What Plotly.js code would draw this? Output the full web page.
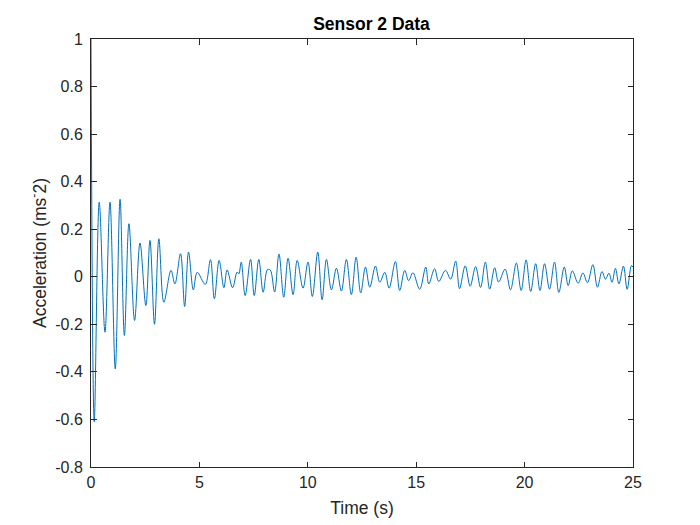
<!DOCTYPE html>
<html>
<head>
<meta charset="utf-8">
<script src="https://cdn.plot.ly/plotly-3.0.1.min.js"></script>
<style>html,body{margin:0;padding:0;background:#fff;}#chart{width:700px;height:525px;}</style>
</head>
<body>
<div id="chart"></div>
<script>
// Time (s) of read-off turning points
var timeS = [0, 0.15, 0.38, 0.645, 0.876, 1.12, 1.34, 1.54, 1.75, 2.01, 2.26, 2.53, 2.72, 2.93, 3.13, 3.36, 3.69, 3.87, 4.13, 4.32,
  4.50, 4.72, 4.90, 5.27, 5.51, 5.69, 5.91, 6.13, 6.28, 6.53, 6.74, 6.82, 6.93, 7.11, 7.36, 7.53, 7.74, 7.94, 8.14, 8.27, 8.47, 8.67,
  8.89, 9.09, 9.32, 9.51, 9.78, 10.01, 10.21, 10.46, 10.66, 10.86, 11.09, 11.32, 11.55, 11.78, 12.01, 12.23, 12.44,
  12.66, 12.86, 13.12, 13.32, 13.55, 13.75, 14.04, 14.24, 14.47, 14.65, 14.85, 15.16, 15.44, 15.58, 15.85, 16.04, 16.35, 16.59,
  16.82, 17.00, 17.26, 17.49, 17.74, 17.97, 18.19, 18.39, 18.62, 18.80, 19.10, 19.35, 19.62, 19.84, 20.07, 20.28, 20.51, 20.71,
  20.92, 21.15, 21.38, 21.58, 21.83, 22.01, 22.20, 22.47, 22.69, 22.90, 23.15, 23.36, 23.57, 23.73, 23.89, 24.03, 24.19, 24.35,
  24.56, 24.73, 24.93, 25.0];
// Acceleration (ms^-2) at those times
var accel = [1.0, -0.61, 0.314, -0.233, 0.314, -0.388, 0.326, -0.247, 0.223, -0.184, 0.142, -0.121, 0.153, -0.200, 0.160, -0.107, 0.027, -0.030, 0.097, -0.125,
  0.104, -0.055, 0.019, -0.032, 0.072, -0.093, 0.069, -0.046, 0.029, -0.046, 0.020, 0.012, 0.062, -0.079, 0.073, -0.079, 0.073, -0.065, 0.030, 0.028, -0.064, 0.096,
  -0.086, 0.078, -0.075, 0.069, -0.048, 0.062, -0.083, 0.104, -0.097, 0.073, -0.055, 0.036, -0.060, 0.073, -0.075, 0.083, -0.068,
  0.041, -0.044, 0.045, -0.023, 0.019, -0.048, 0.064, -0.058, 0.027, -0.016, 0.017, -0.053, 0.041, -0.030, 0.034, -0.020, 0.027, -0.010,
  0.066, -0.050, 0.046, -0.040, 0.043, -0.045, 0.062, -0.052, 0.038, -0.022, 0.032, -0.055, 0.058, -0.058, 0.071, -0.062, 0.055, -0.058,
  0.055, -0.052, 0.062, -0.066, 0.041, -0.037, 0.025, -0.027, 0.016, -0.025, 0.051, -0.044, 0.022, -0.010, 0.015, -0.023, 0.035, -0.030,
  0.045, -0.053, 0.047, 0.040];

var xTickVals = [0, 5, 10, 15, 20, 25];
var xTickText = ['0', '5', '10', '15', '20', '25'];
var yTickVals = [-0.8, -0.6, -0.4, -0.2, 0, 0.2, 0.4, 0.6, 0.8, 1];
var yTickText = ['-0.8', '-0.6', '-0.4', '-0.2', '0', '0.2', '0.4', '0.6', '0.8', '1'];

var axisColor = '#262626';
var fontFam = '"Liberation Sans", Arial, Helvetica, sans-serif';

var trace = {
  x: timeS, y: accel, type: 'scatter', mode: 'lines',
  line: {color: '#0072BD', width: 1, shape: 'spline', smoothing: 1},
  hoverinfo: 'skip'
};

var layout = {
  width: 700, height: 525,
  paper_bgcolor: '#ffffff', plot_bgcolor: '#ffffff',
  margin: {l: 91, r: 66.5, t: 39.4, b: 57.75, pad: 0},
  showlegend: false,
  font: {family: fontFam, color: axisColor, size: 16},
  title: {text: '<b>Sensor 2 Data</b>', font: {family: fontFam, size: 17.5, color: '#000'},
    x: 0.5175, xanchor: 'center', y: 0.954, yanchor: 'middle', xref: 'paper'},
  xaxis: {
    range: [0, 25], tickmode: 'array', tickvals: xTickVals, ticktext: xTickText,
    ticks: 'inside', ticklen: 5.5, tickcolor: axisColor, tickwidth: 1,
    showline: true, linecolor: axisColor, linewidth: 1, mirror: 'ticks',
    showgrid: false, zeroline: false, ticklabelstandoff: 1,
    tickfont: {family: fontFam, size: 16, color: axisColor},
    title: {text: 'Time (s)', font: {family: fontFam, size: 17.5, color: axisColor}, standoff: 11}
  },
  yaxis: {
    range: [-0.8, 1], tickmode: 'array', tickvals: yTickVals, ticktext: yTickText,
    ticks: 'inside', ticklen: 5.5, tickcolor: axisColor, tickwidth: 1,
    showline: true, linecolor: axisColor, linewidth: 1, mirror: 'ticks',
    showgrid: false, zeroline: false, ticklabelstandoff: 4,
    tickfont: {family: fontFam, size: 16, color: axisColor},
    title: {text: 'Acceleration (ms<sup>-</sup>2)', font: {family: fontFam, size: 17.5, color: axisColor}, standoff: 4}
  }
};

Plotly.newPlot('chart', [trace], layout, {staticPlot: true, displayModeBar: false});
</script>
</body>
</html>
